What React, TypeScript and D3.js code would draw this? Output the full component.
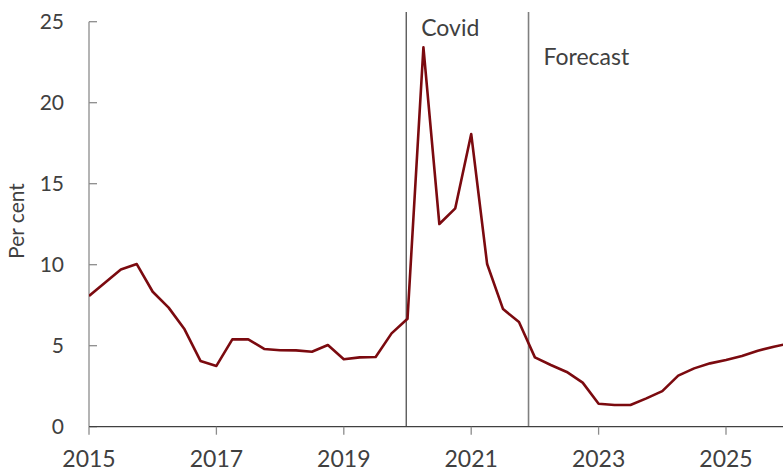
import React from "react";
import * as d3 from "d3";

const W = 783;
const H = 472;

const startYear = 2015;
const values: number[] = [
  8.07, 8.89, 9.71, 10.04,
  8.33, 7.35, 6.01, 4.06,
  3.75, 5.39, 5.39, 4.8,
  4.72, 4.71, 4.63, 5.04,
  4.16, 4.28, 4.3, 5.76,
  6.66, 23.42, 12.51, 13.48,
  18.07, 10.04, 7.26, 6.46,
  4.28, 3.81, 3.38, 2.72,
  1.42, 1.34, 1.34, 1.75,
  2.2, 3.15, 3.6, 3.91,
  4.12, 4.36, 4.69, 4.94,
  5.14,
];
const xTicks: number[] = [2015, 2017, 2019, 2021, 2023, 2025];
const yTicks: number[] = [0, 5, 10, 15, 20, 25];
const eventLabels: string[] = ["Covid", "Forecast"];
const eventDates: number[] = [2019.98, 2021.9];
const eventLabelY: number[] = [36, 65];

const FONT = "Lato, 'Open Sans', sans-serif";
const TXT = "#404040";

export default function App() {
  const left = 89;
  const right = 783;
  const top = 21.7;
  const bottom = 426.7;

  const x = d3.scaleLinear().domain([2015, 2025]).range([left, 726]);
  const y = d3.scaleLinear().domain([0, 25]).range([bottom, top]);

  const pts = values.map((v, i) => ({ t: startYear + i / 4, v }));
  const line = d3
    .line<{ t: number; v: number }>()
    .x((d) => x(d.t))
    .y((d) => y(d.v));

  return (
    <svg
      width={W}
      height={H}
      style={{ position: "absolute", left: 0, top: 0, background: "#fff" }}
      fontFamily={FONT}
    >
      <defs>
        <clipPath id="plotclip">
          <rect x={left} y={0} width={right - left} height={H} />
        </clipPath>
      </defs>

      {/* event lines */}
      {eventDates.map((d, i) => (
        <g key={eventLabels[i]}>
          <line
            x1={x(d)}
            x2={x(d)}
            y1={12}
            y2={bottom}
            stroke={i === 0 ? "#404040" : "#7f7f7f"}
            strokeWidth={i === 0 ? 1.2 : 1.6}
          />
          <text x={x(d) + 15} y={eventLabelY[i]} fontSize={23} fill={TXT}>
            {eventLabels[i]}
          </text>
        </g>
      ))}

      {/* y axis */}
      <line x1={left} x2={left} y1={top} y2={bottom} stroke="#8c8c8c" strokeWidth={1.3} />
      {yTicks.map((t) => (
        <g key={t}>
          <line x1={left} x2={left + 8} y1={y(t)} y2={y(t)} stroke="#8c8c8c" strokeWidth={1.3} />
          <text
            x={64}
            y={y(t)}
            dy="0.35em"
            textAnchor="end"
            fontSize={21}
            fill={TXT}
          >
            {t}
          </text>
        </g>
      ))}
      <text
        transform={`translate(24, 221) rotate(-90)`}
        textAnchor="middle"
        fontSize={21}
        fill={TXT}
      >
        Per cent
      </text>

      {/* x axis */}
      <line x1={left} x2={right} y1={bottom} y2={bottom} stroke="#404040" strokeWidth={1.3} />
      {xTicks.map((t) => (
        <g key={t}>
          <line x1={x(t)} x2={x(t)} y1={bottom} y2={bottom + 8} stroke="#8c8c8c" strokeWidth={1.3} />
          <text x={x(t)} y={467} textAnchor="middle" fontSize={23} fill={TXT}>
            {t}
          </text>
        </g>
      ))}

      {/* series */}
      <path
        d={line(pts) || ""}
        fill="none"
        stroke="#7b0a0f"
        strokeWidth={2.6}
        strokeLinejoin="round"
        clipPath="url(#plotclip)"
      />
    </svg>
  );
}
